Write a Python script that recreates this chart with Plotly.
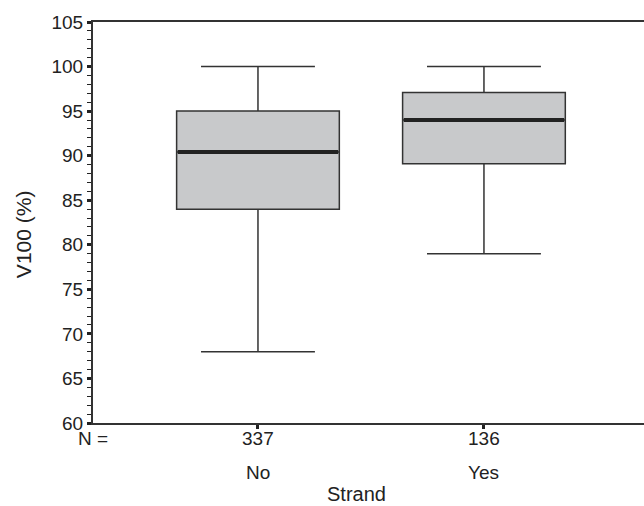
import plotly.graph_objects as go

categories = ["No", "Yes"]
counts = [337, 136]
lower_whisker = [68, 79]
q1 = [84, 89.1]
median = [90.4, 94.0]
q3 = [95, 97.1]
upper_whisker = [100, 100]

xpos = list(range(len(categories)))
box_w = 0.72
font = "Liberation Sans, Arial, sans-serif"
col = "#333333"

fig = go.Figure()
fig.add_trace(go.Box(
    x=xpos, q1=q1, median=median, q3=q3,
    lowerfence=lower_whisker, upperfence=upper_whisker,
    width=box_w, whiskerwidth=0.7,
    fillcolor="#c8c9cb", line=dict(color=col, width=1.5),
    boxpoints=False, hoverinfo="skip", showlegend=False,
))
for i, m in zip(xpos, median):
    fig.add_trace(go.Scatter(
        x=[i - box_w / 2 + 0.005, i + box_w / 2 - 0.005], y=[m, m], mode="lines",
        line=dict(color="#222222", width=4), showlegend=False, hoverinfo="skip",
    ))

annotations = []
for i, (c, n) in enumerate(zip(categories, counts)):
    annotations.append(dict(x=i, y=0, xref="x", yref="paper", yanchor="top",
                            yshift=-3, text=str(n), showarrow=False,
                            font=dict(size=19, color="#222")))
    annotations.append(dict(x=i, y=0, xref="x", yref="paper", yanchor="top",
                            yshift=-37, text=c, showarrow=False,
                            font=dict(size=19, color="#222")))
annotations.append(dict(x=-0.73, y=0, xref="x", yref="paper", yanchor="top",
                        xanchor="center", yshift=-3, text="N =", showarrow=False,
                        font=dict(size=19, color="#222")))
annotations.append(dict(x=0.434, y=0, xref="x", yref="paper", yanchor="top",
                        yshift=-58, text="Strand", showarrow=False,
                        font=dict(size=20, color="#222")))
annotations.append(dict(x=0, y=0.471, xref="paper", yref="paper", xanchor="center",
                        yanchor="middle", xshift=-70, textangle=-90, text="V100 (%)",
                        showarrow=False, font=dict(size=21, color="#222")))

fig.update_layout(
    width=700, height=506,
    margin=dict(l=93, r=0, t=22, b=83),
    plot_bgcolor="white", paper_bgcolor="white",
    font=dict(family=font, size=19, color="#222"),
    annotations=annotations,
    xaxis=dict(range=[-0.73, 1.956], tickvals=xpos, ticktext=["", ""],
               showline=True, linecolor=col, linewidth=2, mirror=True,
               ticks="outside", ticklen=4, tickwidth=3, tickcolor="#222",
               showgrid=False, zeroline=False),
    yaxis=dict(range=[60, 105], tickvals=list(range(60, 106, 5)),
               showline=True, linecolor=col, linewidth=2,
               ticks="outside", ticklen=4, tickwidth=3, tickcolor="#222",
               minor=dict(dtick=1, ticks="outside", ticklen=4, tickwidth=1, tickcolor="#222"),
               showgrid=False, zeroline=False),
)
fig.write_html("out.html", config={"displayModeBar": False},
               post_script="document.body.style.margin='0';document.body.style.overflow='hidden';")
